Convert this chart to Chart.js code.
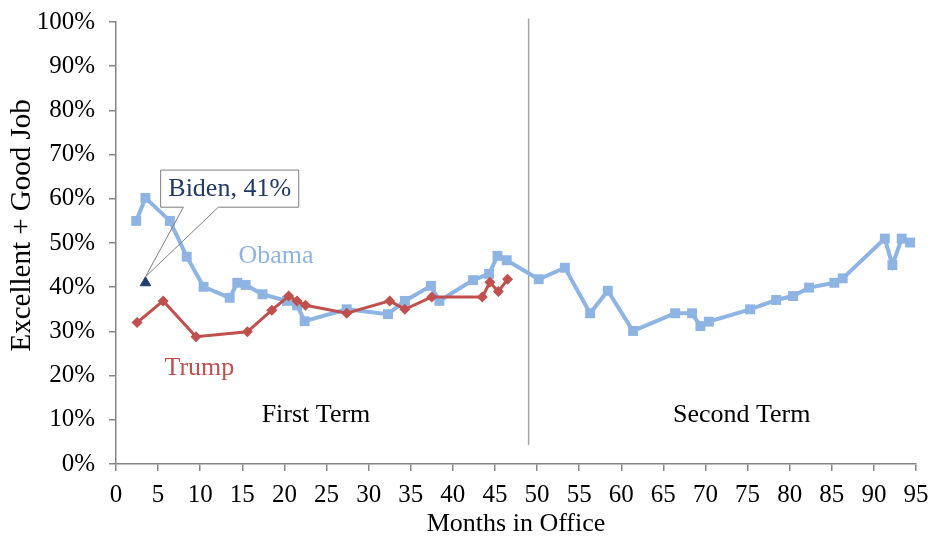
<!DOCTYPE html>
<html>
<head>
<meta charset="utf-8">
<script src="https://cdn.jsdelivr.net/npm/chart.js@4/dist/chart.umd.min.js"></script>
<style>
  body { margin: 0; background: #fff; }
  #wrap { width: 933px; height: 537px; }
</style>
</head>
<body>
<div id="wrap"><canvas id="approvalChart"></canvas></div>
<script>
// months in office / percent excellent + good job
const obamaMonths = [2.4, 3.5, 6.4, 8.4, 10.4, 13.5, 14.4, 15.4, 17.4, 20.3, 21.5, 22.4, 27.4, 32.3, 34.3, 37.4, 38.4, 42.4, 44.3, 45.3, 46.4,
                     50.2, 53.3, 56.3, 58.4, 61.4, 66.4, 68.4, 69.4, 70.4, 75.3, 78.4, 80.4, 82.3, 85.3, 86.3, 91.3, 92.2, 93.3, 94.3];
const obamaValues = [55, 60.2, 55, 46.9, 40.1, 37.6, 41, 40.5, 38.4, 36.9, 35.9, 32.3, 35, 33.9, 36.9, 40.3, 36.9, 41.6, 43, 47.1, 46.1,
                     41.8, 44.4, 34.1, 39.2, 30.1, 34.1, 34.1, 31.2, 32.2, 35, 37.1, 38, 39.9, 41, 42, 51, 45, 51, 50.1];

const trumpMonths = [2.5, 5.6, 9.5, 15.6, 18.5, 20.5, 21.5, 22.5, 27.4, 32.5, 34.3, 37.5, 43.5, 44.4, 45.4, 46.5];
const trumpValues = [32, 36.9, 28.8, 29.9, 34.8, 38, 36.9, 35.9, 34.1, 36.9, 35, 37.8, 37.8, 41.1, 39, 41.8];

const bidenMonths = [3.5];
const bidenValues = [41];

const termDivider = 49;          // month where second term starts
const dividerRange = [4.3, 100.8];

const xTickValues = [0, 5, 10, 15, 20, 25, 30, 35, 40, 45, 50, 55, 60, 65, 70, 75, 80, 85, 90, 95];
const yTickValues = [0, 10, 20, 30, 40, 50, 60, 70, 80, 90, 100];
const yTitle = 'Excellent + Good Job';

const serif = "'Liberation Serif', 'Times New Roman', serif";
const axisGrey = '#868686';

function toPoints(xs, ys) {
    return xs.map((x, i) => ({ x: x, y: ys[i] }));
}

// text labels and the Biden callout, placed in data units
const notes = [
    { text: 'Obama', x: 19.0, y: 47.0, color: '#8db4e2' },
    { text: 'Trump', x: 9.9, y: 21.7, color: '#c0504d' },
    { text: 'First Term', x: 23.75, y: 11.1, color: '#000' },
    { text: 'Second Term', x: 74.3, y: 11.1, color: '#000' }
];
const callout = { text: 'Biden, 41%', left: 5.3, right: 21.7, top: 66.5, bottom: 58.1, wedge: [8.0, 12.15] };

const annotationPlugin = {
    id: 'notes',
    afterDatasetsDraw(chart) {
        const ctx = chart.ctx;
        const xs = chart.scales.x, ys = chart.scales.y;
        ctx.save();
        ctx.font = '26px ' + serif;
        ctx.textAlign = 'center';
        ctx.textBaseline = 'middle';
        notes.forEach(n => {
            ctx.fillStyle = n.color;
            ctx.fillText(n.text, xs.getPixelForValue(n.x), ys.getPixelForValue(n.y));
        });

        // callout box
        const l = xs.getPixelForValue(callout.left), r = xs.getPixelForValue(callout.right);
        const t = ys.getPixelForValue(callout.top), b = ys.getPixelForValue(callout.bottom);
        const w1 = xs.getPixelForValue(callout.wedge[0]), w2 = xs.getPixelForValue(callout.wedge[1]);
        const tipX = xs.getPixelForValue(bidenMonths[0]), tipY = ys.getPixelForValue(bidenValues[0]);
        ctx.fillStyle = '#fff';
        ctx.fillRect(l, t, r - l, b - t);
        ctx.strokeStyle = '#7f7f7f';
        ctx.lineWidth = 1;
        ctx.beginPath();
        ctx.moveTo(w1, b);
        ctx.lineTo(l, b);
        ctx.lineTo(l, t);
        ctx.lineTo(r, t);
        ctx.lineTo(r, b);
        ctx.lineTo(w2, b);
        ctx.lineTo(tipX, tipY - 6);
        ctx.lineTo(w1, b);
        ctx.stroke();
        ctx.fillStyle = '#1f3864';
        ctx.fillText(callout.text, (l + r) / 2, (t + b) / 2 + 1);

        // y axis title, sits a little above the plot centre as in the original
        ctx.translate(22, ys.getPixelForValue(54));
        ctx.rotate(-Math.PI / 2);
        ctx.fillStyle = '#000';
        ctx.font = '29px ' + serif;
        ctx.fillText(yTitle, 0, 0);
        ctx.restore();
    }
};

new Chart(document.getElementById('approvalChart'), {
    type: 'line',
    data: {
        datasets: [
            {
                label: 'Biden',
                data: toPoints(bidenMonths, bidenValues),
                showLine: false,
                pointStyle: 'triangle',
                pointRadius: 6,
                backgroundColor: '#1f3f6e',
                borderColor: '#1f3f6e'
            },
            {
                label: 'Trump',
                data: toPoints(trumpMonths, trumpValues),
                borderColor: '#c0504d',
                backgroundColor: '#c0504d',
                borderWidth: 3,
                pointStyle: 'rectRot',
                pointRadius: 5.5,
                pointBorderWidth: 0,
                tension: 0
            },
            {
                label: 'Obama',
                data: toPoints(obamaMonths, obamaValues),
                borderColor: '#8db4e2',
                backgroundColor: '#8db4e2',
                borderWidth: 4,
                pointStyle: 'rect',
                pointRadius: 7,
                pointBorderWidth: 0,
                tension: 0
            },
            {
                label: 'divider',
                data: toPoints([termDivider, termDivider], dividerRange),
                borderColor: '#a6a6a6',
                borderWidth: 1.5,
                pointRadius: 0,
                clip: false
            }
        ]
    },
    options: {
        responsive: true,
        maintainAspectRatio: false,
        animation: false,
        layout: { padding: { top: 22, right: 17, left: 0, bottom: 0 } },
        plugins: {
            legend: { display: false },
            tooltip: { enabled: false }
        },
        scales: {
            x: {
                type: 'linear',
                min: 0,
                max: 95,
                afterBuildTicks: axis => { axis.ticks = xTickValues.map(v => ({ value: v })); },
                afterFit: axis => {
                    axis.height = 73;
                    axis.paddingLeft = 0;
                    axis.paddingRight = 0;
                },
                border: { display: true, color: axisGrey, width: 1.5 },
                grid: { drawOnChartArea: false, drawTicks: true, tickLength: 7, color: axisGrey, lineWidth: 1.5 },
                ticks: { color: '#000', font: { family: serif, size: 25 }, padding: 9, maxRotation: 0 },
                title: { display: true, text: 'Months in Office', color: '#000', font: { family: serif, size: 26 }, padding: { top: 0, bottom: -3 } }
            },
            y: {
                min: 0,
                max: 100,
                afterBuildTicks: axis => { axis.ticks = yTickValues.map(v => ({ value: v })); },
                afterFit: axis => {
                    axis.width = 116;
                    axis.paddingTop = 0;
                    axis.paddingBottom = 0;
                },
                border: { display: true, color: axisGrey, width: 1.5 },
                grid: { drawOnChartArea: false, drawTicks: true, tickLength: 7, color: axisGrey, lineWidth: 1.5 },
                ticks: { color: '#000', font: { family: serif, size: 25 }, padding: 14, callback: v => v + '%' }
            }
        }
    },
    plugins: [annotationPlugin]
});
</script>
</body>
</html>
